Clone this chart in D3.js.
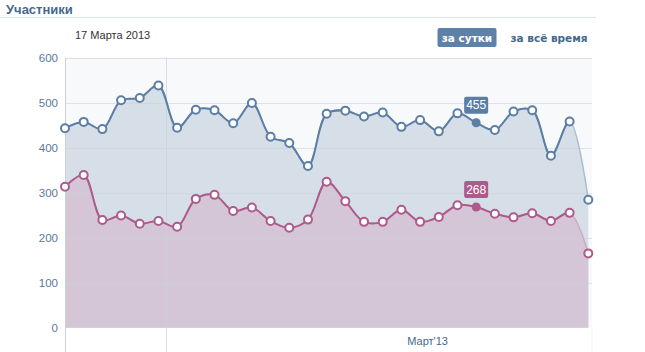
<!DOCTYPE html>
<html><head><meta charset="utf-8">
<script src="https://cdn.jsdelivr.net/npm/d3@7"></script>
<style>
body{margin:0;background:#fff;}
svg text{font-family:"Liberation Sans",Arial,sans-serif;}
svg text.dv{font-family:"DejaVu Sans",Tahoma,sans-serif;}
</style></head>
<body><svg id="c" width="645" height="352"></svg>
<script>
const title = "Участники";
const dateLabel = "17 Марта 2013";
const buttons = ["за сутки", "за всё время"];
const yTicks = [0, 100, 200, 300, 400, 500, 600];
const monthLabel = "Март'13";
const monthLabelIndex = 19.4;
const weekLineIndex = 5.4;
const blueValues = [443,457,441,505,510,538,444,484,483,454,499,424,410,359,475,482,469,478,446,461,436,476,455,439,480,483,382,458,284];
const pinkValues = [313,339,239,249,231,237,224,286,295,259,267,237,222,240,324,281,235,235,262,235,246,272,268,253,245,254,237,255,165];
const highlightIndex = 22;

const svg = d3.select("#c");
const L = 65, R = 588.3, T = 57.5, B = 327.7, BGR = 592;
const n = blueValues.length;
const x = d3.scaleLinear().domain([0, n-1]).range([L, R]);
const y = d3.scaleLinear().domain([0, 600]).range([B, T]);

const blue = "#5a7ea5", pink = "#ad5a8c";
const blueFade = "#aabdd0", pinkFade = "#cfa9c1";

// Title
svg.append("text").attr("x", 6).attr("y", 14).text(title)
  .attr("font-size", 13).attr("font-weight", "bold").attr("fill", "#45688e");
svg.append("line").attr("x1", 0).attr("x2", 596).attr("y1", 17.5).attr("y2", 17.5)
  .attr("stroke", "#dae1e8");
svg.append("text").attr("x", 75).attr("y", 39).text(dateLabel)
  .attr("font-size", 11).attr("fill", "#333");

// buttons
const b1 = svg.append("g");
b1.append("rect").attr("x", 437.5).attr("y", 28).attr("width", 59).attr("height", 19).attr("rx", 2).attr("fill", "#5d81a8");
b1.append("text").attr("class", "dv").attr("x", 467).attr("y", 41.5).attr("text-anchor", "middle").text(buttons[0])
  .attr("font-size", 10.5).attr("font-weight", "bold").attr("fill", "#fff");
svg.append("text").attr("class", "dv").attr("x", 549).attr("y", 41.5).attr("text-anchor", "middle").text(buttons[1])
  .attr("font-size", 10.5).attr("font-weight", "bold").attr("fill", "#45688e");

// plot bg
svg.append("rect").attr("x", L).attr("y", T).attr("width", BGR - L).attr("height", B - T).attr("fill", "#f8f9fa");
svg.append("line").attr("x1", BGR).attr("x2", BGR).attr("y1", B).attr("y2", 352).attr("stroke", "#f0f2f4");

const area = d3.area().x((d,i)=>x(i)).y0(y(0)).y1(d=>y(d)).curve(d3.curveCatmullRom.alpha(0.5));
const line = d3.line().x((d,i)=>x(i)).y(d=>y(d)).curve(d3.curveCatmullRom.alpha(0.5));

svg.append("path").datum(blueValues).attr("d", area).attr("fill", "#d6dfe7");
svg.append("path").datum(pinkValues).attr("d", area).attr("fill", "#d4c5d7");

// grid
svg.append("g").selectAll("line").data(yTicks.filter(d=>d>0)).join("line")
  .attr("x1", L).attr("x2", BGR).attr("y1", d=>Math.round(y(d))+0.5).attr("y2", d=>Math.round(y(d))+0.5)
  .attr("stroke", "#c9d2dc").attr("stroke-opacity", 0.6);
svg.append("line").attr("x1", L+0.5).attr("x2", L+0.5).attr("y1", T).attr("y2", 352).attr("stroke", "#c9d2dc");
svg.append("line").attr("x1", Math.round(x(weekLineIndex))+0.5).attr("x2", Math.round(x(weekLineIndex))+0.5)
  .attr("y1", T).attr("y2", 352).attr("stroke", "#c9d2dc").attr("stroke-opacity", 0.7);

// y labels
svg.append("g").selectAll("text").data(yTicks).join("text")
  .attr("x", 58).attr("y", d=>y(d)+4).attr("text-anchor", "end").text(d=>d)
  .attr("font-size", 11.5).attr("fill", "#5a7a9c");

// month label
svg.append("text").attr("x", x(monthLabelIndex)).attr("y", 345).attr("text-anchor", "middle").text(monthLabel)
  .attr("font-size", 11).attr("fill", "#45688e");

function drawSeries(vals, col, fade) {
  svg.append("path").datum(vals).attr("d", line).attr("fill", "none").attr("stroke", fade).attr("stroke-width", 1.5);
  const cid = "clip" + col.slice(1);
  svg.append("clipPath").attr("id", cid).append("rect").attr("x", 0).attr("y", 0).attr("width", x(n-2)).attr("height", 352);
  svg.append("path").datum(vals).attr("d", line).attr("fill", "none").attr("stroke", col).attr("stroke-width", 2).attr("clip-path", `url(#${cid})`);
  svg.append("g").selectAll("circle").data(vals).join("circle")
    .attr("cx", (d,i)=>x(i)).attr("cy", d=>y(d)).attr("r", (d,i)=>i===highlightIndex?4.5:4)
    .attr("fill", (d,i)=>i===highlightIndex?col:"#fff")
    .attr("stroke", col).attr("stroke-width", (d,i)=>i===highlightIndex?0:2);
  const v = vals[highlightIndex];
  const cx = x(highlightIndex), cy = y(v);
  svg.append("rect").attr("x", cx-12).attr("y", cy-26).attr("width", 24).attr("height", 17).attr("rx", 2).attr("fill", col);
  svg.append("text").attr("x", cx).attr("y", cy-13.5).attr("text-anchor", "middle").text(v)
    .attr("font-size", 12).attr("fill", "#fff");
}
drawSeries(blueValues, blue, blueFade);
drawSeries(pinkValues, pink, pinkFade);
</script></body></html>
